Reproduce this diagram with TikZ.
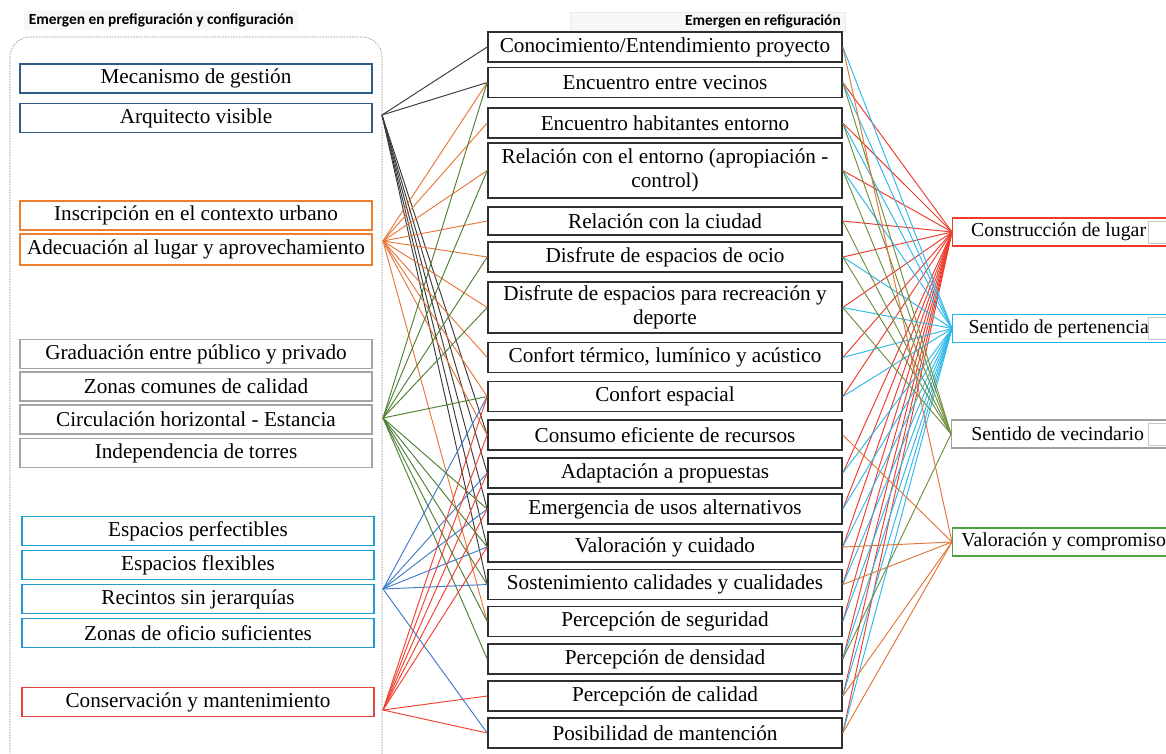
\documentclass[tikz,border=0pt]{standalone}
\usepackage{fontspec}
\setmainfont{Liberation Serif}
\newfontfamily\hdrfont{Carlito}
\definecolor{lblue}{HTML}{2E5C8A}
\definecolor{lorange}{HTML}{ED7D31}
\definecolor{lgray}{HTML}{A5A5A5}
\definecolor{lteal}{HTML}{1F9BCF}
\definecolor{lred}{HTML}{E0443A}
\definecolor{midc}{HTML}{303030}
\definecolor{rred}{HTML}{EE3B2B}
\definecolor{rcyan}{HTML}{1EB4EA}
\definecolor{rgray}{HTML}{A0A0A0}
\definecolor{rgreen}{HTML}{4EA03C}
\definecolor{cblack}{HTML}{3A3A3A}
\definecolor{corange}{HTML}{E8773A}
\definecolor{cgreen}{HTML}{4F8035}
\definecolor{cblue}{HTML}{3D7CC9}
\definecolor{cred}{HTML}{F2412F}
\definecolor{crred}{HTML}{EC3A2C}
\definecolor{ccyan}{HTML}{2DB7EA}
\definecolor{crgreen}{HTML}{708F3E}
\definecolor{crorange}{HTML}{E0763A}
\begin{document}
\begin{tikzpicture}[x=1pt,y=-1pt,
  box/.style={draw, line width=1.4pt, fill=white, inner sep=0pt, align=center, font=\fontsize{21.2}{24}\selectfont},
  lbox/.style={box, minimum width=352, minimum height=29},
  mbox/.style={box, draw=midc, line width=1.6pt, minimum width=354, minimum height=30},
  rbox/.style={box, anchor=west, minimum width=222, minimum height=28, font=\fontsize{19.8}{22}\selectfont, line width=1.3pt},
  sbox/.style={draw=black!22, line width=0.6pt, fill=white, anchor=west, minimum width=20, minimum height=22, inner sep=0pt},
  hdr/.style={font=\hdrfont\bfseries\fontsize{15.4}{17}\selectfont, inner sep=2pt},
  conn/.style={line width=0.95pt}]
\useasboundingbox (0,0) rectangle (1166,753);
\clip (0,0) rectangle (1166,753);

% headers
\node[hdr, anchor=west, fill=black!3, minimum height=19, minimum width=274] (h1) at (24,20) {Emergen en prefiguración y configuración\hspace{2pt}};
\node[fill=black!3, draw=black!8, line width=0.5pt, minimum width=275, minimum height=19, anchor=north west, inner sep=0pt] (h2box) at (570,12) {};
\node[hdr, anchor=east] (h2) at (843,21) {Emergen en refiguración};

% dashed frame
\draw[black!45, line width=0.6pt, dash pattern=on 1.5pt off 1.2pt, rounded corners=20] (10,37) rectangle (382,775);

% left boxes
\node[lbox, draw=lblue] (l1) at (196,78.5) {Mecanismo de gestión};
\node[lbox, draw=lblue] (l2) at (196,118) {Arquitecto visible};
\node[lbox, draw=lorange] (l3) at (196,215.5) {Inscripción en el contexto urbano};
\node[lbox, draw=lorange, minimum height=31] (l4) at (196,249.5) {Adecuación al lugar y aprovechamiento};
\node[lbox, draw=lgray] (l5) at (196,354) {Graduación entre público y privado};
\node[lbox, draw=lgray] (l6) at (196,386.5) {Zonas comunes de calidad};
\node[lbox, draw=lgray] (l7) at (196,419.5) {Circulación horizontal - Estancia};
\node[lbox, draw=lgray] (l8) at (196,453) {Independencia de torres};
\node[lbox, draw=lteal] (l9) at (198,531) {Espacios perfectibles};
\node[lbox, draw=lteal] (l10) at (198,565) {Espacios flexibles};
\node[lbox, draw=lteal] (l11) at (198,599) {Recintos sin jerarquías};
\node[lbox, draw=lteal] (l12) at (198,633) {Zonas de oficio suficientes};
\node[lbox, draw=lred] (l13) at (198,702) {Conservación y mantenimiento};

% fan points
\coordinate (fk) at (382,115);
\coordinate (fo) at (383,241);
\coordinate (fg) at (383,418);
\coordinate (fb) at (383,589);
\coordinate (fr) at (383,710);

% middle boxes
\node[mbox] (m1) at (665,47) {Conocimiento/Entendimiento proyecto};
\node[mbox] (m2) at (665,82.5) {Encuentro entre vecinos};
\node[mbox] (m3) at (665,123) {Encuentro habitantes entorno};
\node[mbox, minimum height=55] (m4) at (665,170.5) {Relación con el entorno (apropiación -\\control)};
\node[mbox, minimum height=28] (m5) at (665,221) {Relación con la ciudad};
\node[mbox] (m6) at (665,257) {Disfrute de espacios de ocio};
\node[mbox, minimum height=51] (m7) at (665,307.5) {Disfrute de espacios para recreación y\\deporte};
\node[mbox] (m8) at (665,357.5) {Confort térmico, lumínico y acústico};
\node[mbox] (m9) at (665,396.5) {Confort espacial};
\node[mbox] (m10) at (665,435) {Consumo eficiente de recursos};
\node[mbox] (m11) at (665,473) {Adaptación a propuestas};
\node[mbox] (m12) at (665,509) {Emergencia de usos alternativos};
\node[mbox] (m13) at (665,547) {Valoración y cuidado};
\node[mbox] (m14) at (665,584.5) {Sostenimiento calidades y cualidades};
\node[mbox] (m15) at (665,621.5) {Percepción de seguridad};
\node[mbox] (m16) at (665,659) {Percepción de densidad};
\node[mbox] (m17) at (665,696) {Percepción de calidad};
\node[mbox] (m18) at (665,733) {Posibilidad de mantención};

% right boxes
\node[rbox, draw=rred] (r1) at (952,232) {Construcción de lugar\hspace{10pt}};
\node[sbox] (s1) at (1148,232) {};
\node[rbox, draw=rcyan] (r2) at (952,328.5) {Sentido de pertenencia\hspace{10pt}};
\node[sbox] (s2) at (1148,328.5) {};
\node[rbox, draw=rgray] (r3) at (951,434) {Sentido de vecindario\hspace{10pt}};
\node[sbox] (s3) at (1148,434) {};
\node[rbox, draw=rgreen] (r4) at (952,542) {Valoración y compromiso};

% left connectors
\foreach \t in {1,2,10,11,12,13,14} \draw[conn, cblack] (fk) -- (m\t.west);
\foreach \t in {2,3,4,5,6,7,8,9,10,15} \draw[conn, corange] (fo) -- (m\t.west);
\foreach \t in {2,4,6,7,9,12,13,14,15,16} \draw[conn, cgreen] (fg) -- (m\t.west);
\foreach \t in {9,11,12,13,14,18} \draw[conn, cblue] (fb) -- (m\t.west);
\foreach \t in {9,10,11,12,13,17,18} \draw[conn, cred] (fr) -- (m\t.west);

% right connectors
\foreach \t in {2,3,4,5,6,7,8,9,11,12,13,14,15,16,17,18} \draw[conn, crred] (m\t.east) -- (r1.west);
\foreach \t in {1,2,3,4,6,7,8,9,11,12,13,14,15,16,17,18} \draw[conn, ccyan] (m\t.east) -- (r2.west);
\foreach \t in {2,3,4,5,6,7,16} \draw[conn, crgreen] (m\t.east) -- (r3.west);
\foreach \t in {1,10,13,14,17,18} \draw[conn, crorange] (m\t.east) -- (r4.west);
\end{tikzpicture}
\end{document}
